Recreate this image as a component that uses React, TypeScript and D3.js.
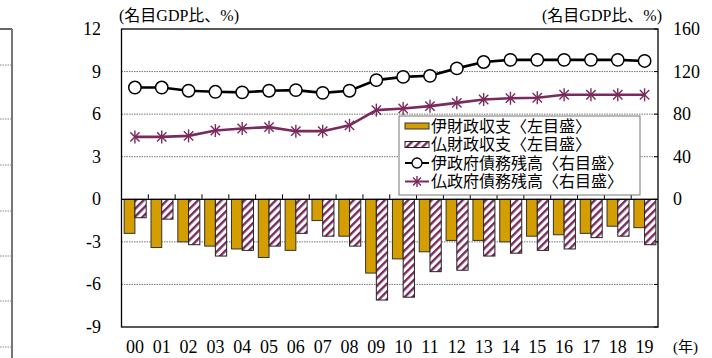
import React from 'react';
import * as d3 from 'd3';

const years = ['00','01','02','03','04','05','06','07','08','09','10','11','12','13','14','15','16','17','18','19'];
const itBalance = [-2.4,-3.4,-3.0,-3.3,-3.5,-4.1,-3.6,-1.5,-2.6,-5.2,-4.2,-3.7,-2.9,-2.9,-3.0,-2.6,-2.5,-2.4,-1.9,-2.0];
const frBalance = [-1.3,-1.4,-3.2,-4.0,-3.6,-3.3,-2.4,-2.6,-3.3,-7.1,-6.9,-5.1,-5.0,-4.0,-3.8,-3.6,-3.5,-2.7,-2.6,-3.2];
const itDebt = [105,105,102,101,100.5,102,102.6,100,102,112,115,116,123,129,131,131,131,131,131,130];
const frDebt = [58.6,58.6,59.6,64.6,66.5,67.8,64,64,69.5,83.8,85.3,87.5,90.6,93.8,95,95.4,98.2,98.2,98.2,98.2];
const leftTicks = [12, 9, 6, 3, 0, -3, -6, -9];
const rightTicks = [160, 120, 80, 40, 0];
const legendLabels = ['伊財政収支〈左目盛〉','仏財政収支〈左目盛〉','伊政府債務残高〈右目盛〉','仏政府債務残高〈右目盛〉'];
const neighbourGrid = [65, 119, 165, 211, 256, 301, 347];

const ORANGE = '#D49E00';
const PURPLE = '#7A2A5C';
const FONT = "'Liberation Serif', 'Times New Roman', 'Noto Sans CJK JP', serif";

function Star({ cx, cy, r, color }: { cx: number; cy: number; r: number; color: string }) {
  const d = r * 0.72;
  return (
    <g stroke={color} strokeWidth={1.4}>
      <line x1={cx} y1={cy - r} x2={cx} y2={cy + r} />
      <line x1={cx - d} y1={cy - d} x2={cx + d} y2={cy + d} />
      <line x1={cx - d} y1={cy + d} x2={cx + d} y2={cy - d} />
    </g>
  );
}

export default function App() {
  const W = 712, H = 358;
  const left = 121.5, right = 658, top = 29, bottom = 327;
  const x = d3.scaleBand<string>().domain(years).range([left, right]).padding(0);
  const bw = x.bandwidth();
  const yL = d3.scaleLinear().domain([-9, 12]).range([bottom, top]);
  const yR = d3.scaleLinear().domain([0, 160]).range([yL(0), top]);
  const cx = (i: number) => (x(years[i]) as number) + bw / 2;
  const line = d3.line<number>().x((_, i) => cx(i)).y((v) => yR(v));
  const y0 = yL(0);

  const lg = { x: 399, y: 116, w: 241, h: 79 };
  const rowY = [126, 144.5, 163, 181.5];

  return (
    <svg width={W} height={H} style={{ position: 'absolute', left: 0, top: 0, background: '#fff', fontFamily: FONT }}>
      <defs>
        <pattern id="hatch" patternUnits="userSpaceOnUse" width={5.5} height={5.5} patternTransform="rotate(45)">
          <rect width={5.5} height={5.5} fill="#fff" />
          <rect x={0} y={0} width={2.4} height={5.5} fill={PURPLE} />
        </pattern>
      </defs>
      <rect width={W} height={H} fill="#fff" />

      {/* neighbouring chart fragment */}
      <line x1={0} x2={12} y1={29} y2={29} stroke="#000" strokeWidth={1.2} />
      <line x1={12} x2={12} y1={29} y2={H} stroke="#777" strokeWidth={2} />
      {neighbourGrid.map((g) => (
        <line key={g} x1={0} x2={11} y1={g} y2={g} stroke="#888" strokeDasharray="1.5,1" />
      ))}

      {/* grid */}
      {leftTicks.filter((t) => t !== 0 && t !== 12 && t !== -9).map((t) => (
        <line key={t} x1={left} x2={right} y1={yL(t)} y2={yL(t)} stroke="#777" strokeWidth={1} strokeDasharray="1.5,1" />
      ))}
      {leftTicks.map((t) => (
        <line key={'rt' + t} x1={right - 4} x2={right} y1={yL(t)} y2={yL(t)} stroke="#000" />
      ))}

      {/* bars */}
      {years.map((yr, i) => {
        const bx = x(yr) as number;
        return (
          <g key={yr}>
            <rect x={bx + bw * 0.1} width={bw * 0.4} y={y0} height={yL(itBalance[i]) - y0} fill={ORANGE} stroke="#333" strokeWidth={1} />
            <rect x={bx + bw * 0.5} width={bw * 0.42} y={y0} height={yL(frBalance[i]) - y0} fill="url(#hatch)" stroke="#222" strokeWidth={1} />
          </g>
        );
      })}

      {/* zero line with ticks */}
      <line x1={left} x2={right} y1={y0} y2={y0} stroke="#000" strokeWidth={1.3} />
      {years.slice(1).map((yr) => (
        <line key={'t' + yr} x1={x(yr) as number} x2={x(yr) as number} y1={y0} y2={y0 - 5} stroke="#000" />
      ))}

      {/* frame */}
      <rect x={left} y={top} width={right - left} height={bottom - top} fill="none" stroke="#000" strokeWidth={1.3} />

      {/* lines */}
      <path d={line(frDebt) as string} fill="none" stroke={PURPLE} strokeWidth={2.6} />
      {frDebt.map((v, i) => <Star key={'s' + i} cx={cx(i)} cy={yR(v)} r={6.5} color={PURPLE} />)}
      <path d={line(itDebt) as string} fill="none" stroke="#000" strokeWidth={2.6} />
      {itDebt.map((v, i) => <circle key={'c' + i} cx={cx(i)} cy={yR(v)} r={6.2} fill="#fff" stroke="#000" strokeWidth={1.5} />)}

      {/* axes labels */}
      {leftTicks.map((t) => (
        <text key={'l' + t} x={101} y={yL(t)} textAnchor="end" dominantBaseline="central" fontSize={18}>{t}</text>
      ))}
      {rightTicks.map((t) => (
        <text key={'r' + t} x={673} y={yR(t)} textAnchor="start" dominantBaseline="central" fontSize={18}>{t}</text>
      ))}
      {years.map((yr, i) => (
        <text key={'x' + yr} x={cx(i)} y={347} textAnchor="middle" dominantBaseline="central" fontSize={18}>{yr}</text>
      ))}
      <text x={673} y={347} dominantBaseline="central" fontSize={15}>(年)</text>
      <text x={119} y={15} dominantBaseline="central" fontSize={16}>(名目GDP比、%)</text>
      <text x={662} y={15} textAnchor="end" dominantBaseline="central" fontSize={16}>(名目GDP比、%)</text>

      {/* legend */}
      <rect x={lg.x} y={lg.y} width={lg.w} height={lg.h} fill="#fff" stroke="#777" strokeWidth={1} />
      <rect x={405} y={rowY[0] - 3} width={24} height={6} fill={ORANGE} stroke="#333" />
      <rect x={405} y={rowY[1] - 3} width={24} height={6} fill="url(#hatch)" stroke="#222" />
      <line x1={405} x2={429} y1={rowY[2]} y2={rowY[2]} stroke="#000" strokeWidth={2} />
      <circle cx={417} cy={rowY[2]} r={5} fill="#fff" stroke="#000" strokeWidth={1.3} />
      <line x1={405} x2={429} y1={rowY[3]} y2={rowY[3]} stroke={PURPLE} strokeWidth={2} />
      <Star cx={417} cy={rowY[3]} r={5.5} color={PURPLE} />
      {legendLabels.map((t, i) => (
        <text key={t} x={431} y={rowY[i]} dominantBaseline="central" fontSize={16}>{t}</text>
      ))}
    </svg>
  );
}
